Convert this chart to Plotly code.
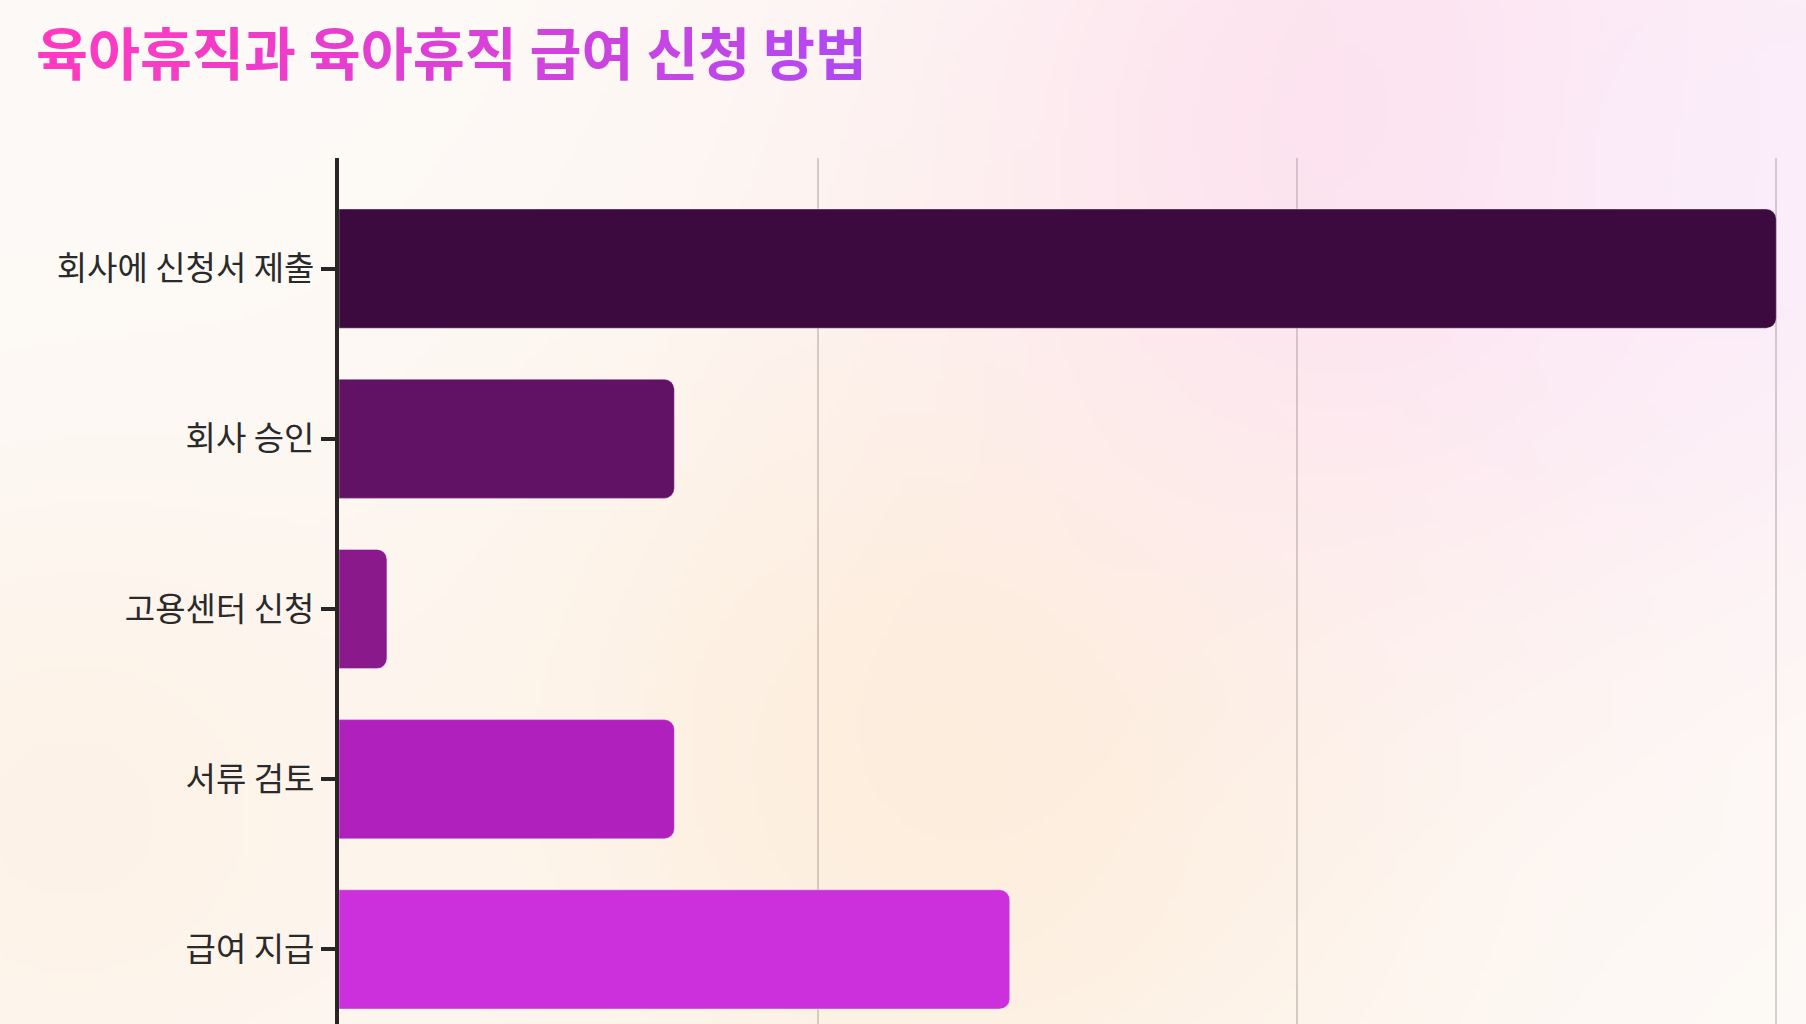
import base64
import struct
import zlib

import numpy as np
import plotly.graph_objects as go

# 단계별 소요 기간 (일)
steps = ["회사에 신청서 제출", "회사 승인", "고용센터 신청", "서류 검토", "급여 지급"]
days = [30, 7, 1, 7, 14]
bar_colors = ["#3d0a40", "#621264", "#8a1a8c", "#b020bc", "#cb30dc"]

title_text = "육아휴직과 육아휴직 급여 신청 방법"

W, H = 1806, 1130
ML, MR, MT, MB = 339, 1, 158, 70
PW, PH = W - ML - MR, H - MT - MB


def gradient_title(text, c0=(255, 58, 192), c1=(180, 72, 240)):
    # 글자마다 색을 섞어서 그라데이션 흉내
    n = max(len(text) - 1, 1)
    out = []
    for i, ch in enumerate(text):
        t = i / n
        r, g, b = (round(a + (b_ - a) * t) for a, b_ in zip(c0, c1))
        out.append(f"<span style='color:rgb({r},{g},{b})'>{ch}</span>")
    return "".join(out)


def background_png(w=302, h=189):
    # 흐릿한 배경 얼룩을 작은 png로 만든다
    sx, sy = W / w, H / h
    yy, xx = np.mgrid[0:h, 0:w].astype(float)
    xx = (xx + 0.5) * sx
    yy = (yy + 0.5) * sy
    img = np.ones((h, w, 3)) * np.array([254, 250, 247], float)
    blobs = [
        ((60, 820), 230, (253, 238, 222), 0.6),
        ((950, 760), 330, (253, 236, 216), 0.85),
        ((1400, 120), 320, (253, 223, 237), 0.9),
        ((1760, 170), 230, (251, 237, 252), 0.8),
    ]
    for (cx, cy), s, col, alpha in blobs:
        a = alpha * np.exp(-((xx - cx) ** 2 + (yy - cy) ** 2) / (2 * s * s))
        img = img * (1 - a[..., None]) + np.array(col, float) * a[..., None]
    img = np.clip(img, 0, 255).astype(np.uint8)
    raw = b"".join(b"\x00" + img[r].tobytes() for r in range(h))

    def chunk(tag, data):
        c = struct.pack(">I", len(data)) + tag + data
        return c + struct.pack(">I", zlib.crc32(tag + data) & 0xFFFFFFFF)

    png = b"\x89PNG\r\n\x1a\n"
    png += chunk(b"IHDR", struct.pack(">IIBBBBB", w, h, 8, 2, 0, 0, 0))
    png += chunk(b"IDAT", zlib.compress(raw, 9))
    png += chunk(b"IEND", b"")
    return "data:image/png;base64," + base64.b64encode(png).decode()


fig = go.Figure()
fig.add_trace(
    go.Bar(
        x=days,
        y=steps,
        orientation="h",
        marker=dict(color=bar_colors, line=dict(color="rgba(255,255,255,0.35)", width=1)),
        hovertemplate="%{y}: %{x}일<extra></extra>",
        showlegend=False,
    )
)

fig.update_layout(
    width=W,
    height=H,
    margin=dict(l=ML, r=MR, t=MT, b=MB),
    paper_bgcolor="#fefaf7",
    plot_bgcolor="rgba(0,0,0,0)",
    bargap=0.3,
    barcornerradius=10,
    font=dict(family="Noto Sans CJK KR", color="#2a2a2a"),
    title=dict(
        text=gradient_title(title_text),
        font=dict(family="Noto Sans CJK KR", size=56.5, weight="bold"),
        x=36 / W,
        xanchor="left",
        xref="container",
        y=1 - 55 / H,
        yanchor="middle",
        yref="container",
    ),
    images=[
        dict(
            source=background_png(),
            xref="paper",
            yref="paper",
            x=-ML / PW,
            y=1 + MT / PH,
            sizex=W / PW,
            sizey=H / PH,
            xanchor="left",
            yanchor="top",
            sizing="stretch",
            layer="below",
        )
    ],
)

fig.update_xaxes(
    range=[0, 30.6],
    dtick=10,
    showgrid=True,
    gridcolor="rgba(120,100,100,0.28)",
    gridwidth=1.5,
    zeroline=False,
    showline=False,
    showticklabels=False,
)
fig.update_yaxes(
    range=[4.65, -0.65],
    showgrid=False,
    showline=True,
    linecolor="#2a2525",
    linewidth=4,
    ticks="outside",
    ticklen=14,
    tickwidth=4,
    tickcolor="#2a2525",
    tickfont=dict(size=33, color="#2a2a2a"),
)

fig.write_html(
    "out.html",
    config={"displayModeBar": False},
    post_script="document.body.style.margin = '0';",
)
